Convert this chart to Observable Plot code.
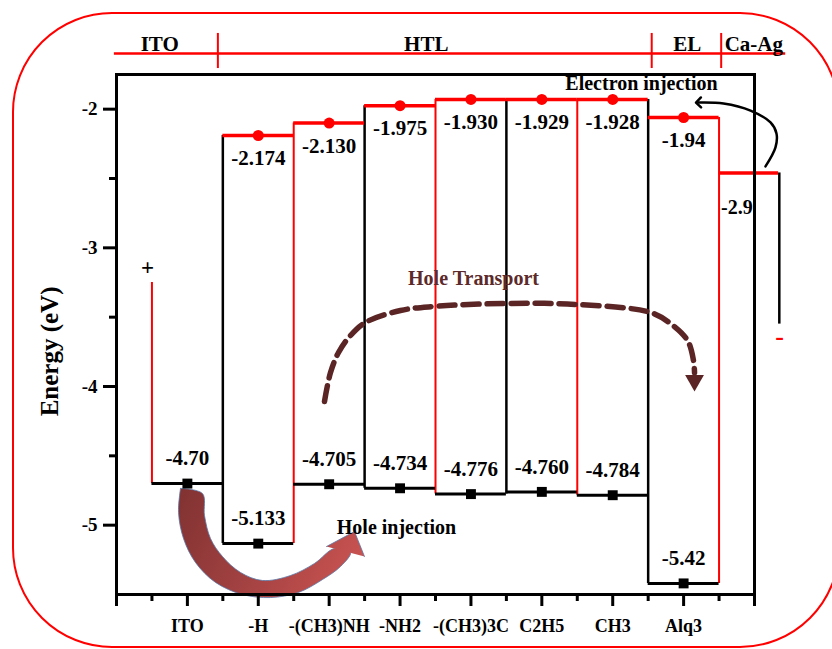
<!DOCTYPE html>
<html><head><meta charset="utf-8">
<script src="https://cdn.jsdelivr.net/npm/d3@7"></script>
<script src="https://cdn.jsdelivr.net/npm/@observablehq/plot@0.6"></script>
<style>
html,body{margin:0;padding:0;background:#fff;}
#wrap{position:relative;width:832px;height:649px;overflow:hidden;background:#fff;}
#chart{position:absolute;left:0;top:0;}
#border{position:absolute;left:12px;top:12px;width:828px;height:636px;box-sizing:border-box;border:2px solid #ff0000;border-radius:100px;pointer-events:none;}
</style></head>
<body>
<div id="wrap"><div id="chart"></div><div id="border"></div></div>
<script>
// ---- data (energies in eV, x in layer units) ----
const layers = ["ITO", "-H", "-(CH3)NH", "-NH2", "-(CH3)3C", "C2H5", "CH3", "Alq3"];
const lumo = [null, -2.19, -2.10, -1.975, -1.93, -1.93, -1.93, -2.06];
const lumoLabels = [null, "-2.174", "-2.130", "-1.975", "-1.930", "-1.929", "-1.928", "-1.94"];
const homo = [-4.70, -5.133, -4.705, -4.734, -4.776, -4.760, -4.784, -5.42];
const homoLabels = ["-4.70", "-5.133", "-4.705", "-4.734", "-4.776", "-4.760", "-4.784", "-5.42"];
const cathodeLevel = -2.46;
const cathodeLabel = "-2.9";
const cathodeSpan = [8.5, 9.34];
const cathodeWire = [9.35, -2.46, -3.55];
const anodeWire = [0.5, -3.25, -4.70];
const yTicks = [-2, -3, -4, -5];
const yMinorTicks = [-2.5, -3.5, -4.5];
const xTicks = [0, 1, 2, 3, 4, 5, 6, 7, 8, 9];
const xMinorTicks = [0.5, 1.5, 2.5, 3.5, 4.5, 5.5, 6.5, 7.5, 8.5];
const regions = ["ITO", "HTL", "EL", "Ca-Ag"];
const regionX = [0.61, 4.37, 8.05, 8.99];
const regionDividers = [1.43, 7.55, 8.53];
const regionSpan = [-0.03, 9.44];
const regionLineY = -1.599;
const regionTickY = [-1.454, -1.707];
const regionTextY = -1.529;
const yLabel = "Energy (eV)";
const notes = [
  {t: "Electron injection", x: 7.406, y: -1.818, c: "#000", s: 20},
  {t: "Hole Transport", x: 5.036, y: -3.225, c: "#5c2a2a", s: 20},
  {t: "Hole injection", x: 3.95, y: -5.017, c: "#000", s: 20},
  {t: "+", x: 0.437, y: -3.142, c: "#000", s: 23},
  {t: "-", x: 9.353, y: -3.639, c: "#ff0000", s: 26}
];
const electronPath = [[9.155,-2.413],[9.296,-2.276],[9.310,-2.175],[9.226,-2.096],[8.944,-2.010],[8.563,-1.959],[8.21,-1.952]];
const transportPath = [[2.934,-4.108],[3.019,-3.899],[3.132,-3.755],[3.301,-3.632],[3.512,-3.538],[4.006,-3.452],[4.472,-3.423],[5.516,-3.401],[6.503,-3.409],[7.533,-3.466],[7.815,-3.546],[8.055,-3.668],[8.139,-3.812],[8.154,-3.90]];
const transportHead = [8.154, -3.957];
const injectionBody = [[0.903,-4.735],[0.875,-4.909],[0.945,-5.096],[1.114,-5.269],[1.397,-5.413],[1.777,-5.500],[2.172,-5.522],[2.567,-5.485],[2.906,-5.392],[3.160,-5.298],[3.301,-5.197],[3.075,-5.168],[2.793,-5.276],[2.455,-5.363],[2.060,-5.399],[1.749,-5.341],[1.495,-5.226],[1.326,-5.096],[1.241,-4.930],[1.213,-4.772],[0.903,-4.735]];
const injectionHead = [[2.962,-5.154],[3.357,-5.046],[3.498,-5.226]];

// ---- derived tables ----
const cols = layers.map((name, i) => ({i: i + 1, name, lumo: lumo[i], homo: homo[i], lumoLabel: lumoLabels[i], homoLabel: homoLabels[i]}));
const lumoRows = cols.filter(d => d.lumo != null);
const allCols = [...cols, {i: 9, lumo: cathodeLevel, homo: null}];
const bounds = d3.range(1, allCols.length).map(k => {
  const a = allCols[k - 1], b = allCols[k];
  return {
    x: k + 0.5,
    top: d3.max([a.lumo, b.lumo].filter(v => v != null)),
    bottom: d3.min([a.homo, b.homo].filter(v => v != null)),
    red: k % 2 === 0
  };
});
const P = a => ({x: a[0], y: a[1]});

const RED = "#ff0000";
const FONT = '"Liberation Serif", "Times New Roman", serif';

const plot = Plot.plot({
  width: 832, height: 649,
  marginLeft: 116, marginRight: 78, marginTop: 74, marginBottom: 55,
  x: {domain: [0, 9]},
  y: {domain: [-5.5, -1.75]},
  style: {fontFamily: FONT, fontWeight: "bold", fontSize: "18px", background: "transparent", overflow: "visible", color: "#000"},
  marks: [
    // header
    Plot.ruleY([{y: regionLineY, x1: regionSpan[0], x2: regionSpan[1]}], {y: "y", x1: "x1", x2: "x2", stroke: RED, strokeWidth: 2.5}),
    Plot.ruleX(regionDividers.map(x => ({x, y1: regionTickY[0], y2: regionTickY[1]})), {x: "x", y1: "y1", y2: "y2", stroke: RED, strokeWidth: 2}),
    Plot.text(regions.map((t, i) => ({t, x: regionX[i], y: regionTextY})), {x: "x", y: "y", text: "t", fontSize: 21}),
    // electrode wires
    Plot.ruleX([{x: anodeWire[0], y1: anodeWire[1], y2: anodeWire[2]}], {x: "x", y1: "y1", y2: "y2", stroke: RED, strokeWidth: 2}),
    Plot.ruleX([{x: cathodeWire[0], y1: cathodeWire[1], y2: cathodeWire[2]}], {x: "x", y1: "y1", y2: "y2", stroke: "#000", strokeWidth: 2.5}),
    // boundaries
    Plot.ruleX(bounds.filter(d => !d.red), {x: "x", y1: "top", y2: "bottom", stroke: "#000", strokeWidth: 2.5}),
    Plot.ruleX(bounds.filter(d => d.red), {x: "x", y1: "top", y2: "bottom", stroke: RED, strokeWidth: 2}),
    // levels
    Plot.ruleY(lumoRows, {y: "lumo", x1: d => d.i - 0.5, x2: d => d.i + 0.5, stroke: RED, strokeWidth: 3.5}),
    Plot.ruleY([{y: cathodeLevel, x1: cathodeSpan[0], x2: cathodeSpan[1]}], {y: "y", x1: "x1", x2: "x2", stroke: RED, strokeWidth: 3.5}),
    Plot.ruleY(cols, {y: "homo", x1: d => d.i - 0.5, x2: d => d.i + 0.5, stroke: "#000", strokeWidth: 3}),
    // annotations
    Plot.line(transportPath.map(P), {x: "x", y: "y", curve: "catmull-rom", stroke: "#5b2525", strokeWidth: 5.5, strokeDasharray: "16,8"}),
    Plot.dot([P(transportHead)], {x: "x", y: "y", symbol: "triangle", rotate: 180, r: 7, fill: "#5b2525"}),
    Plot.line(electronPath.map(P), {x: "x", y: "y", curve: "catmull-rom", stroke: "#000", strokeWidth: 2.5, markerEnd: "arrow"}),
    Plot.line(injectionBody.map(P), {x: "x", y: "y", curve: "catmull-rom", fill: "url(#injGrad)", stroke: "#5876a6", strokeWidth: 0.8}),
    Plot.line(injectionHead.map(P), {x: "x", y: "y", curve: "linear", fill: "url(#injGrad)", stroke: "#5876a6", strokeWidth: 0.8}),
    // markers
    Plot.dot(lumoRows, {x: "i", y: "lumo", r: 5.5, fill: RED}),
    Plot.dot(cols, {x: "i", y: "homo", symbol: "square", r: 5.6, fill: "#000"}),
    // value labels
    Plot.text(lumoRows, {x: "i", y: "lumo", text: "lumoLabel", dy: 23, fontSize: 21}),
    Plot.text(cols, {x: "i", y: "homo", text: "homoLabel", dy: -25, fontSize: 21}),
    Plot.text([{t: cathodeLabel, x: cathodeSpan[0], y: cathodeLevel}], {x: "x", y: "y", text: "t", dy: 35, dx: 2, textAnchor: "start", fontSize: 20}),
    Plot.text(notes, {x: "x", y: "y", text: "t", fill: "c", fontSize: "s"}),
    // axes
    Plot.frame({stroke: "#000", strokeWidth: 3}),
    Plot.axisY({ticks: yTicks, tickSize: 13, tickPadding: 6, strokeWidth: 3, tickFormat: d => String(d), fontSize: 19, label: null}),
    Plot.axisY({ticks: yMinorTicks, tickSize: 7, strokeWidth: 3, tickFormat: () => "", label: null}),
    Plot.axisX({ticks: xTicks, tickSize: 12, tickPadding: 13, strokeWidth: 3, tickFormat: d => layers[d - 1] ?? "", fontSize: 18, label: null}),
    Plot.axisX({ticks: xMinorTicks, tickSize: 7, strokeWidth: 3, tickFormat: () => "", label: null}),
    Plot.text([{t: yLabel, x: -0.945, y: -3.747}], {x: "x", y: "y", text: "t", rotate: -90, fontSize: 25})
  ]
});

const ns = "http://www.w3.org/2000/svg";
const defs = document.createElementNS(ns, "defs");
defs.innerHTML = '<linearGradient id="injGrad" gradientUnits="userSpaceOnUse" x1="175" y1="500" x2="365" y2="590"><stop offset="0" stop-color="#823232"/><stop offset="0.5" stop-color="#a64343"/><stop offset="1" stop-color="#cf5653"/></linearGradient>';
plot.insertBefore(defs, plot.firstChild);
document.getElementById("chart").appendChild(plot);
</script>
</body></html>
